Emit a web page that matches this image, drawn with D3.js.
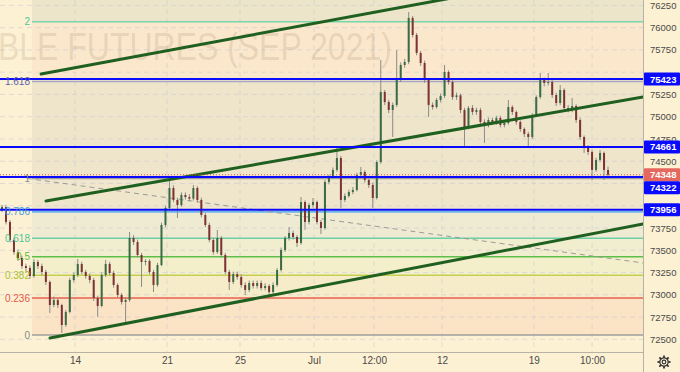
<!DOCTYPE html>
<html><head><meta charset="utf-8">
<script src="https://cdn.jsdelivr.net/npm/d3@7"></script>
<style>html,body{margin:0;padding:0;background:#fdf1d3;overflow:hidden}svg{display:block}</style>
</head><body><svg id="c" width="680" height="372"></svg>
<script>
// ---------- DATA ----------
const firstOpen = 73960;
const closes = [73986,73817,73615,73480,73413,73323,73301,73211,73368,73323,
73256,73144,72885,72941,72885,72661,72807,73166,73222,73346,
73256,73211,73166,72964,72874,73222,73346,73245,73110,72998,
72919,72941,73638,73593,73447,73368,73380,73256,73110,73334,
73784,73975,74199,74065,74008,74121,74098,74080,74199,74065,
73896,73784,73615,73480,73638,73447,73256,73144,73233,73200,
73110,73054,73132,73099,73132,73076,73099,73031,73110,73278,
73503,73638,73694,73649,73582,74042,73817,74008,74042,73817,
73750,74267,74323,74402,74536,74065,74110,74154,74177,74345,
74379,74289,74233,74087,74491,75278,75165,75075,75132,75412,
75581,75615,76109,75918,75716,75603,75412,75132,75109,75188,
75233,75502,75390,75221,75240,75075,74884,75098,75053,75075,
74941,74907,74963,74941,74986,74907,74929,75109,75053,74941,
74862,74806,74772,75019,75221,75412,75379,75390,75244,75154,
75300,75098,75080,75120,74963,74772,74649,74604,74402,74514,
74593,74402,74348];
const highs = [74008,74010,73840,73640,73510,73440,73350,73330,73400,73390,
73350,73280,73160,72980,72960,72900,72830,73190,73250,73402,
73370,73280,73240,73190,72990,73250,73391,73370,73270,73130,
73020,72970,73705,73670,73620,73470,73400,73400,73280,73360,
73810,74000,74289,74230,74090,74150,74150,74130,74233,74220,
74090,73920,73810,73640,73728,73660,73470,73280,73260,73260,
73230,73140,73160,73160,73160,73160,73130,73120,73140,73300,
73530,73660,73761,73720,73670,74098,74060,74030,74087,74060,
73840,74290,74350,74430,74649,74560,74140,74180,74210,74370,
74435,74400,74310,74260,74510,75637,75300,75190,75160,75749,
75610,75650,76176,76130,75940,75740,75630,75430,75160,75210,
75260,75581,75520,75410,75270,75260,75100,75120,75130,75100,
75100,74970,74990,74990,75010,75010,74960,75188,75130,75070,
74960,74880,74830,75040,75240,75491,75440,75491,75410,75270,
75356,75320,75130,75210,75140,74990,74790,74680,74630,74540,
74626,74610,74440];
const lows = [73930,73790,73590,73450,73380,73290,73260,73180,73190,73290,
73220,73110,72795,72860,72850,72571,72640,72790,73140,73200,
73230,73180,73130,72930,72751,72860,73200,73220,73080,72970,
72890,72694,72920,73560,73420,73088,73330,73230,73031,73090,
73320,73760,73950,74040,73862,73990,74070,74050,74060,74040,
73870,73760,73590,73450,73460,73420,73230,73054,73120,73170,
73080,72998,73030,73070,73070,73050,73050,72975,73010,73090,
73260,73480,73610,73620,73537,73560,73728,73790,73980,73790,
73683,73730,74240,74300,74380,73975,74040,74090,74130,74160,
74320,74260,74200,73975,74070,74470,75130,75040,74772,75110,
75390,75550,75590,75890,75690,75570,75380,74997,75080,75090,
75160,75210,75360,75190,75190,75040,74660,74860,75020,75020,
74910,74705,74880,74910,74910,74880,74880,74910,75020,74910,
74830,74770,74660,74750,75000,75200,75340,75350,75210,75120,
75130,75070,75050,75050,74930,74740,74593,74570,74289,74380,
74490,74289,74320];
const lastPrice = 74348;
const hLevels = [75423, 74661, 74322, 73956];
const yTickValues = [72500,72750,73000,73250,73500,73750,74000,74250,74500,74750,75000,75250,75500,75750,76000,76250];
const xTickIdx = [18.31, 41.38, 59.69, 78.25, 93.3, 110.36, 133.4, 148.0];
const xTickLabels = ["14","21","25","Jul","12:00","12","19","10:00"];
const fibLevels = [0, 0.236, 0.382, 0.5, 0.618, 0.786, 1, 1.618, 2, 2.618];
const fibLabels = ["0","0.236","0.382","0.5","0.618","0.786","1","1.618","2",""];
const fibPrice0 = 72548, fibPrice1 = 74307.5, fibStartIdx = 7.52;
const channelLines = [
  [[9.8, 75480], [120, 76393]],
  [[11.04, 74053], [160.8, 75222]],
  [[12.04, 72515], [160.8, 73795]]
];
const trendDash = [[6.27, 74307], [160.8, 73357]];
const watermark = "RUBLE FUTURES (SEP 2021)";

// ---------- STYLES ----------
const fibLineColors = ["#9e9e9e","#e8604f","#c4cf4e","#5cbf4a","#6ccfa8","#6ab4ee","#9e9e9e","#a3a7c4","#78d6ad",null];
const fibTextColors = ["#8a8a8a","#e25a4a","#a8c030","#5cbf3c","#4cc39a","#3fa0e0","#8a8a8a","#5a62a8","#4cc39a",null];
const fibFillColors = ["#fbe3c6","#f6ecc9","#f4efcb","#f1edcf","#efebd3","#efe6cc","#efe5cb","#fbe7cc","#ece5c9"];

const W = 680, H = 372, PW = 643, PH = 352;
const svg = d3.select("#c");
const x = d3.scaleLinear().domain([0, 152]).range([2, 2 + 152 * 3.987]);
const y = d3.scaleLinear().domain([72500, 76250]).range([339.3, 5.4]);
const fibPrice = l => fibPrice0 + l * (fibPrice1 - fibPrice0);

svg.append("rect").attr("width", W).attr("height", H).attr("fill", "#fdf1d3");
svg.append("defs").append("clipPath").attr("id", "clip")
  .append("rect").attr("width", PW).attr("height", PH);
const plot = svg.append("g").attr("clip-path", "url(#clip)");

// fib fills
const fx0 = x(fibStartIdx);
for (let i = 0; i < fibLevels.length - 1; i++) {
  const yA = y(fibPrice(fibLevels[i])), yB = y(fibPrice(fibLevels[i + 1]));
  plot.append("rect").attr("x", fx0).attr("width", PW - fx0)
    .attr("y", Math.min(yA, yB)).attr("height", Math.abs(yA - yB))
    .attr("fill", fibFillColors[i]);
}

// grid
plot.append("g").selectAll("line").data(yTickValues).join("line")
  .attr("x1", 0).attr("x2", PW).attr("y1", d => y(d)).attr("y2", d => y(d))
  .attr("stroke", "#c9c9d6").attr("stroke-opacity", 0.55).attr("stroke-dasharray", "5,4");
plot.append("g").selectAll("line").data(xTickIdx).join("line")
  .attr("x1", d => x(d)).attr("x2", d => x(d)).attr("y1", 0).attr("y2", PH)
  .attr("stroke", "#c9c9d6").attr("stroke-opacity", 0.55).attr("stroke-dasharray", "5,4");

// watermark
const wm = plot.append("text").text(watermark)
  .attr("font-family", "Liberation Sans, Arial, sans-serif").attr("font-size", 38)
  .attr("fill", "#8c6e50").attr("fill-opacity", 0.17).attr("y", 60);
const subW = wm.node().getSubStringLength(2, watermark.length - 2);
const preW = wm.node().getSubStringLength(0, 2);
const sx = 394 / subW;
wm.attr("transform", `translate(${-2 - preW * sx},0) scale(${sx},1)`);

// fib lines
fibLevels.forEach((l, i) => {
  if (!fibLineColors[i]) return;
  const yy = y(fibPrice(l));
  plot.append("line").attr("x1", fx0).attr("x2", PW).attr("y1", yy).attr("y2", yy)
    .attr("stroke", fibLineColors[i]).attr("stroke-width", 1.6);
});

// dashed trend line
plot.append("line")
  .attr("x1", x(trendDash[0][0])).attr("y1", y(trendDash[0][1]))
  .attr("x2", x(trendDash[1][0])).attr("y2", y(trendDash[1][1]))
  .attr("stroke", "#9a9a9a").attr("stroke-width", 1).attr("stroke-dasharray", "5,4");

// candles
const candles = closes.map((c, i) => ({
  i, o: i === 0 ? firstOpen : closes[i - 1], c, h: highs[i], l: lows[i]
}));
const cg = plot.append("g");
cg.selectAll("line").data(candles).join("line")
  .attr("x1", d => x(d.i)).attr("x2", d => x(d.i))
  .attr("y1", d => y(d.h)).attr("y2", d => y(d.l))
  .attr("stroke", "#8a8a8a").attr("stroke-width", 1);
cg.selectAll("rect").data(candles).join("rect")
  .attr("x", d => x(d.i) - 1).attr("width", 2)
  .attr("y", d => y(Math.max(d.o, d.c)))
  .attr("height", d => Math.max(1, Math.abs(y(d.o) - y(d.c))))
  .attr("fill", d => d.c >= d.o ? "#3a6b45" : "#7e3232");

// channel lines
channelLines.forEach(seg => {
  plot.append("line")
    .attr("x1", x(seg[0][0])).attr("y1", y(seg[0][1]))
    .attr("x2", x(seg[1][0])).attr("y2", y(seg[1][1]))
    .attr("stroke", "#1f5f1f").attr("stroke-width", 3).attr("stroke-linecap", "round");
});

// blue horizontal levels
plot.append("g").selectAll("line").data(hLevels).join("line")
  .attr("x1", 0).attr("x2", PW).attr("y1", d => y(d)).attr("y2", d => y(d))
  .attr("stroke", "#0a0aff").attr("stroke-width", 2);

// last price dotted
plot.append("line").attr("x1", 0).attr("x2", PW)
  .attr("y1", y(lastPrice)).attr("y2", y(lastPrice))
  .attr("stroke", "#e0504a").attr("stroke-width", 1).attr("stroke-dasharray", "1,2");

// fib labels
fibLevels.forEach((l, i) => {
  if (!fibLabels[i]) return;
  svg.append("text").text(fibLabels[i])
    .attr("x", fx0 - 2).attr("y", y(fibPrice(l)) + 3.5)
    .attr("text-anchor", "end").attr("font-family", "Liberation Sans, Arial, sans-serif")
    .attr("font-size", 10).attr("fill", fibTextColors[i]);
});

// axes
svg.append("line").attr("x1", PW + 0.5).attr("x2", PW + 0.5).attr("y1", 0).attr("y2", H)
  .attr("stroke", "#b8b2a4").attr("stroke-width", 1);
svg.append("line").attr("x1", 0).attr("x2", PW).attr("y1", PH + 0.5).attr("y2", PH + 0.5)
  .attr("stroke", "#b8b2a4").attr("stroke-width", 1);

// price labels (positions resolved first so hidden ticks can be dropped)
const labels = hLevels.map(v => ({ v, color: "#0a0aff" }))
  .concat([{ v: lastPrice, color: "#e5685e" }])
  .map(d => ({ ...d, cy: y(d.v) }))
  .sort((a, b) => a.cy - b.cy);
const LH = 13;
for (let i = 1; i < labels.length; i++) {
  if (labels[i].cy - labels[i - 1].cy < LH) labels[i].cy = labels[i - 1].cy + LH;
}
const visibleTicks = yTickValues.filter(v =>
  !labels.some(l => Math.abs(y(v) - l.cy) < LH / 2 + 0.5));

const yAxis = svg.append("g").attr("transform", `translate(${PW},0)`)
  .call(d3.axisRight(y).tickValues(visibleTicks).tickSize(0).tickPadding(7).tickFormat(d3.format("d")));
yAxis.select(".domain").remove();
yAxis.selectAll("text").attr("font-family", "Liberation Sans, Arial, sans-serif")
  .attr("font-size", 9.5).attr("fill", "#4a4a4a");

const xAxis = svg.append("g").attr("transform", `translate(0,${PH})`)
  .call(d3.axisBottom(x).tickValues(xTickIdx).tickSize(0).tickPadding(5)
    .tickFormat((d, i) => xTickLabels[i]));
xAxis.select(".domain").remove();
xAxis.selectAll("text").attr("font-family", "Liberation Sans, Arial, sans-serif")
  .attr("font-size", 10).attr("fill", "#4a4a4a");

const lg = svg.append("g");
labels.forEach(d => {
  lg.append("rect").attr("x", PW + 1).attr("y", d.cy - LH / 2).attr("width", W - PW - 1).attr("height", LH)
    .attr("fill", d.color).attr("rx", 1);
  lg.append("text").text(d.v).attr("x", PW + 7).attr("y", d.cy + 3.5)
    .attr("font-family", "Liberation Sans, Arial, sans-serif").attr("font-size", 9.5)
    .attr("font-weight", "bold").attr("fill", "#ffffff");
});

// gear icon
const gear = svg.append("g").attr("transform", "translate(664,362)")
  .attr("stroke", "#333").attr("fill", "none").attr("stroke-width", 1.2);
gear.append("circle").attr("r", 4.2);
d3.range(8).forEach(k => {
  const a = k * Math.PI / 4;
  gear.append("line").attr("x1", Math.cos(a) * 4.2).attr("y1", Math.sin(a) * 4.2)
    .attr("x2", Math.cos(a) * 6.5).attr("y2", Math.sin(a) * 6.5).attr("stroke-width", 1.8);
});
gear.append("circle").attr("r", 1.8);
</script></body></html>
